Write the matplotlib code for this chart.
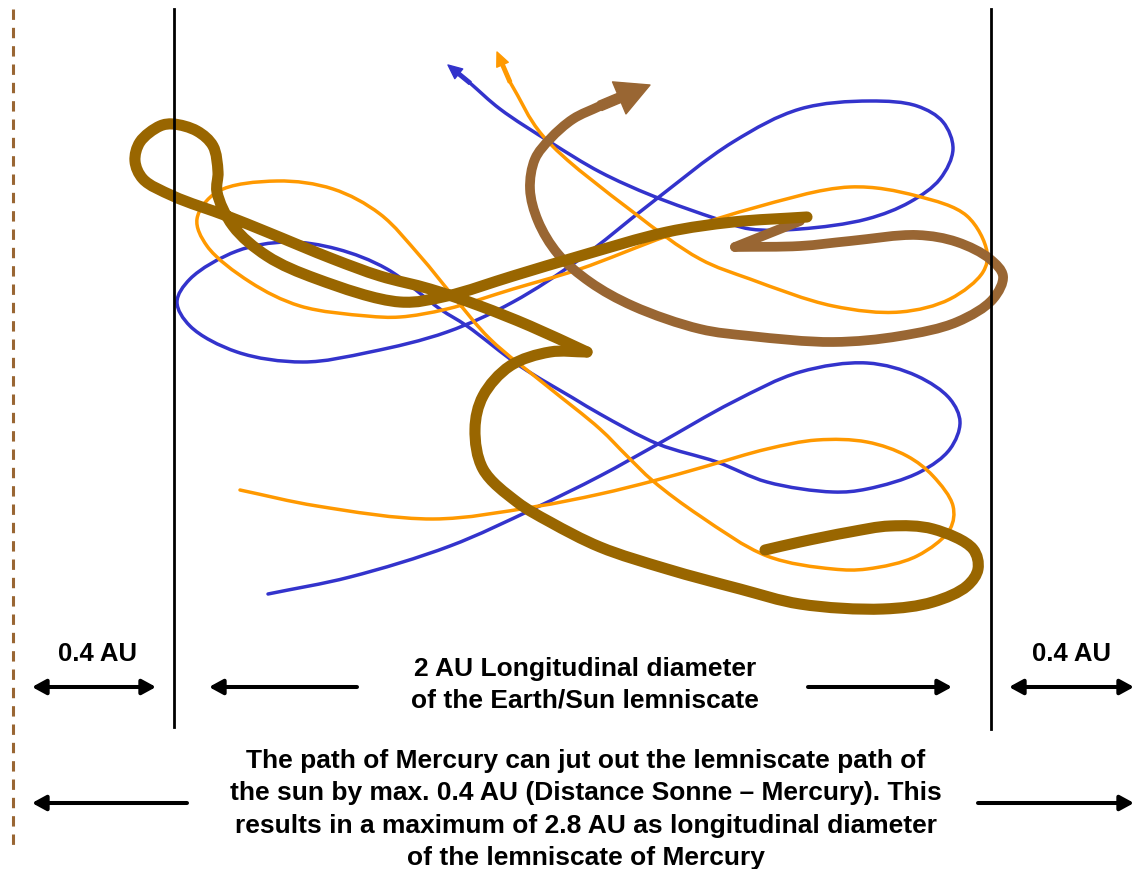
import numpy as np
import matplotlib
matplotlib.use("Agg")
import matplotlib.pyplot as plt
from matplotlib.path import Path
from matplotlib.patches import PathPatch

plt.rcParams['font.family'] = ['Liberation Sans', 'DejaVu Sans']

# hand-drawn paths in pixel units (x right, y down)
earth_x = [268, 350, 450, 533, 600, 658, 733, 800, 867, 917, 950, 960, 950, 920, 867, 833, 767, 717,
           658, 600, 573, 520, 467, 440, 387, 337, 287, 237, 190, 177, 190, 237, 303, 370, 447, 513,
           580, 650, 733, 800, 870, 917, 943, 953, 940, 910, 867, 800, 750, 717, 653, 600, 550, 500,
           470, 448]
earth_y = [595, 578, 547, 510, 477, 445, 403, 373, 364, 377, 400, 423, 450, 473, 490, 493, 483, 463,
           445, 415, 399, 367, 327, 310, 270, 250, 243, 252, 280, 303, 327, 353, 363, 353, 333, 303,
           260, 205, 143, 110, 102, 107, 123, 150, 180, 203, 220, 230, 230, 220, 197, 173, 143, 110,
           84, 66]

sun_x = [240, 317, 433, 533, 600, 653, 707, 767, 817, 867, 907, 933, 953, 950, 917, 867, 833, 767,
         700, 653, 627, 600, 547, 490, 453, 420, 380, 333, 277, 217, 197, 207, 250, 300, 367, 400,
         447, 513, 580, 667, 750, 850, 917, 967, 987, 983, 950, 900, 833, 750, 700, 633, 543, 510, 497]
sun_y = [491, 507, 520, 508, 495, 482, 467, 450, 441, 443, 457, 477, 507, 530, 557, 570, 570, 557,
         517, 482, 457, 430, 387, 340, 297, 257, 215, 190, 182, 193, 220, 247, 283, 307, 317, 318,
         310, 290, 270, 237, 210, 188, 197, 217, 253, 273, 300, 313, 307, 280, 260, 213, 137, 83, 53]

# Mercury, dark part: lower loop up to the sharp tip, then back to the upper end
merc_a_x = [765, 800, 850, 890, 933, 973, 978, 967, 933, 883, 800, 740, 667, 600, 550, 517, 483,
            475, 483, 510, 550, 587]
merc_a_y = [551, 543, 533, 527, 530, 550, 570, 587, 603, 610, 605, 590, 570, 548, 523, 503, 470,
            430, 397, 367, 353, 353]
merc_b_x = [587, 530, 480, 430, 380, 333, 267, 227, 173, 143, 135, 140, 160, 173, 197, 213, 218,
            217, 233, 267, 317, 400, 447, 513, 580, 667, 733, 807]
merc_b_y = [353, 327, 307, 290, 277, 260, 233, 217, 197, 180, 162, 143, 127, 125, 132, 147, 173,
            193, 227, 257, 280, 303, 297, 277, 257, 233, 223, 218]

# Mercury, light part: small hook, right loop, arrow at the top
merc_c_x = [800, 735]
merc_c_y = [222, 248]
merc_d_x = [735, 800, 850, 917, 957, 990, 1003, 993, 957, 900, 833, 750, 700, 633, 590, 558, 538,
            530, 535, 550, 573, 600, 650]
merc_d_y = [248, 247, 242, 236, 243, 260, 277, 300, 323, 337, 343, 337, 330, 307, 283, 255, 222,
            190, 160, 140, 120, 107, 86]

c_earth = '#3333CC'
c_sun = '#FF9900'
c_merc = '#996600'
c_merc2 = '#996633'


def smooth(xs, ys, alpha=0.5):
    # centripetal Catmull-Rom through the read points, as cubic Bezier pieces
    p = np.column_stack([xs, ys]).astype(float)
    n = len(p)
    ext = np.vstack([2 * p[0] - p[1], p, 2 * p[-1] - p[-2]])
    verts = [p[0]]
    codes = [Path.MOVETO]
    for i in range(n - 1):
        p0, p1, p2, p3 = ext[i], ext[i + 1], ext[i + 2], ext[i + 3]
        d1 = max(np.linalg.norm(p1 - p0) ** alpha, 1e-6)
        d2 = max(np.linalg.norm(p2 - p1) ** alpha, 1e-6)
        d3 = max(np.linalg.norm(p3 - p2) ** alpha, 1e-6)
        b1 = (d1 ** 2 * p2 - d2 ** 2 * p0 + (2 * d1 ** 2 + 3 * d1 * d2 + d2 ** 2) * p1) / (3 * d1 * (d1 + d2))
        b2 = (d3 ** 2 * p1 - d2 ** 2 * p3 + (2 * d3 ** 2 + 3 * d3 * d2 + d2 ** 2) * p2) / (3 * d3 * (d3 + d2))
        verts += [b1, b2, p2]
        codes += [Path.CURVE4] * 3
    return Path(verts, codes)


def curve(ax, xs, ys, color, lw, cap='round'):
    ax.add_patch(PathPatch(smooth(xs, ys), fill=False, edgecolor=color, lw=lw,
                           capstyle=cap, joinstyle='round'))


def head(ax, xs, ys, color, w, hw, hl):
    ax.annotate('', xy=(xs[-1], ys[-1]), xytext=(xs[-2], ys[-2]),
                arrowprops=dict(width=w, headwidth=hw, headlength=hl, color=color, shrink=0))


fig = plt.figure(figsize=(11.48, 8.70), dpi=100)
ax = fig.add_axes([0, 0, 1, 1])
ax.set_xlim(0, 1148)
ax.set_ylim(870, 0)
ax.axis('off')

# frame lines
ax.plot([13, 13], [10, 848], color=c_merc2, lw=2.2, dashes=(3.4, 2.6))
ax.plot([174, 174], [10, 728], color='black', lw=2)
ax.plot([991, 991], [10, 730], color='black', lw=2)

curve(ax, earth_x[:-1], earth_y[:-1], c_earth, 2.5)
head(ax, earth_x, earth_y, c_earth, 2.5, 9, 10)
curve(ax, sun_x[:-1], sun_y[:-1], c_sun, 2.5)
head(ax, sun_x, sun_y, c_sun, 2.5, 9, 10)

curve(ax, merc_c_x, merc_c_y, c_merc2, 7)
curve(ax, merc_d_x[:-1], merc_d_y[:-1], c_merc2, 7)
head(ax, merc_d_x, merc_d_y, c_merc2, 7, 25, 24)
curve(ax, merc_a_x, merc_a_y, c_merc, 8)
curve(ax, merc_b_x, merc_b_y, c_merc, 8)

# dimension arrows
arr = dict(arrowstyle='-|>,head_length=0.55,head_width=0.3', lw=2.9, color='black',
           shrinkA=0, shrinkB=0, mutation_scale=15)
arr2 = dict(arr, arrowstyle='<|-|>,head_length=0.55,head_width=0.3')
ax.annotate('', xy=(32, 688), xytext=(156, 688), arrowprops=arr2)
ax.annotate('', xy=(1009, 688), xytext=(1134, 688), arrowprops=arr2)
ax.annotate('', xy=(209, 688), xytext=(357, 688), arrowprops=arr)
ax.annotate('', xy=(952, 688), xytext=(808, 688), arrowprops=arr)
ax.annotate('', xy=(32, 804), xytext=(187, 804), arrowprops=arr)
ax.annotate('', xy=(1134, 804), xytext=(978, 804), arrowprops=arr)

fs = 18.5
fs2 = 19
ax.text(98, 661, '0.4 AU', ha='center', va='baseline', fontsize=fs, fontweight='bold')
ax.text(1072, 661, '0.4 AU', ha='center', va='baseline', fontsize=fs, fontweight='bold')

mid_lines = ['2 AU Longitudinal diameter', 'of the Earth/Sun lemniscate']
for i, s in enumerate(mid_lines):
    ax.text(585, 676 + 32 * i, s, ha='center', va='baseline', fontsize=fs2, fontweight='bold')

note_lines = ['The path of Mercury can jut out the lemniscate path of',
              'the sun by max. 0.4 AU (Distance Sonne \u2013 Mercury). This',
              'results in a maximum of 2.8 AU as longitudinal diameter',
              'of the lemniscate of Mercury']
for i, s in enumerate(note_lines):
    ax.text(586, 768 + 32.3 * i, s, ha='center', va='baseline', fontsize=fs2, fontweight='bold')

fig.savefig('out.png', dpi=100)
